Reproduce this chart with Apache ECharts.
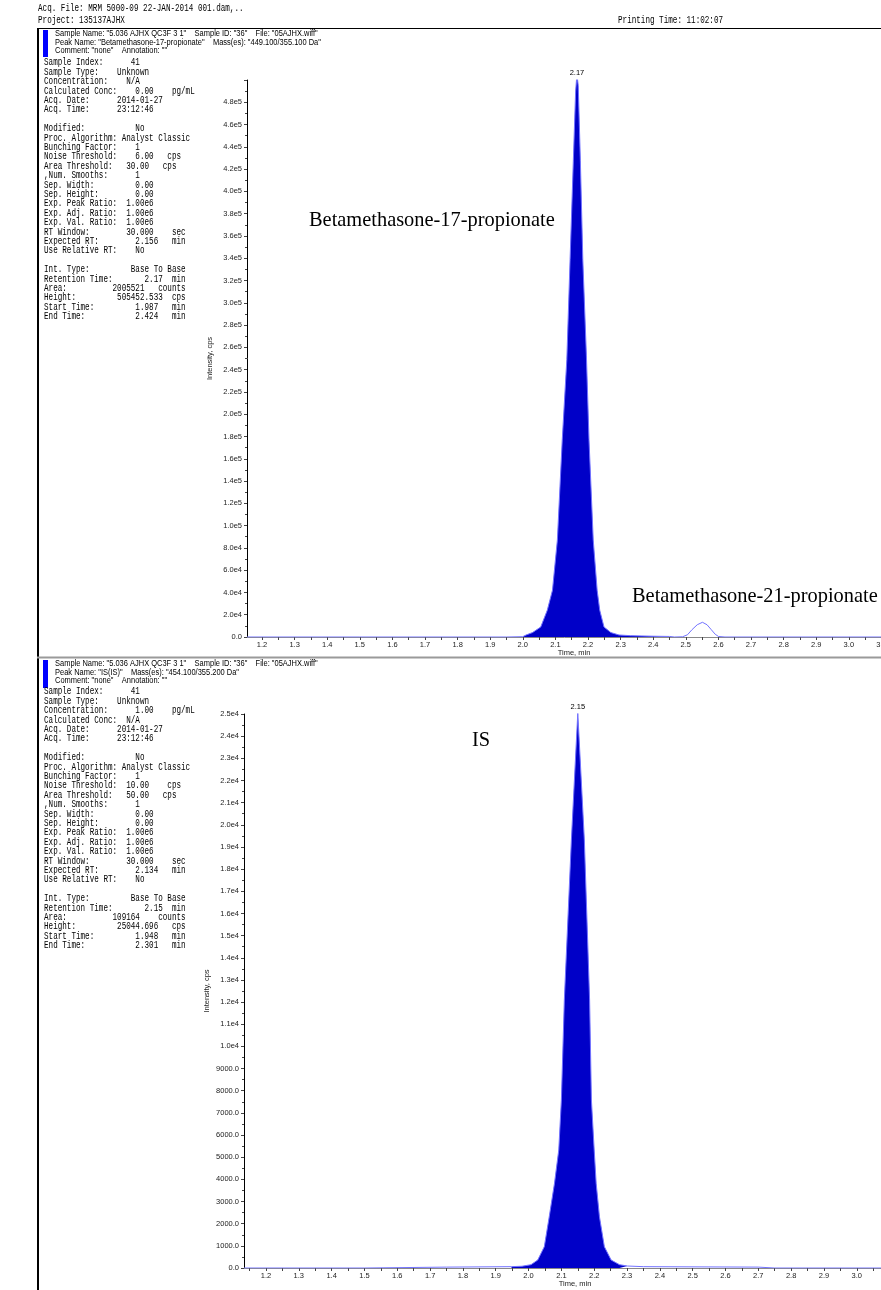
<!DOCTYPE html>
<html>
<head>
<meta charset="utf-8">
<script src="https://cdn.jsdelivr.net/npm/echarts@6/dist/echarts.min.js"></script>
<style>
html,body{margin:0;padding:0;background:#fff;}
#main{width:881px;height:1290px;}
</style>
</head>
<body>
<div id="main"></div>
<script>
// tick labels of the time axis
var xTickLabels = [1.2, 1.3, 1.4, 1.5, 1.6, 1.7, 1.8, 1.9, 2.0, 2.1, 2.2, 2.3, 2.4, 2.5, 2.6, 2.7, 2.8, 2.9, 3.0, 3.1];

// upper trace: Betamethasone-17-propionate (449.1/355.1)
var topTime = [1.154, 1.50, 1.80, 1.95, 2.00, 2.01, 2.03, 2.055, 2.075, 2.091, 2.106, 2.121, 2.135, 2.145, 2.155, 2.162, 2.166,
  2.170, 2.1765, 2.184, 2.195, 2.203, 2.216, 2.228, 2.236, 2.249, 2.27, 2.295, 2.33, 2.40, 2.45, 2.465,
  2.49, 2.505, 2.519, 2.535, 2.551, 2.565, 2.578, 2.59, 2.60, 2.62, 3.16];
var topIntensity = [0, 0, 0, 0, 300, 1800, 4000, 9000, 24000, 42000, 87000, 177000, 249000, 339000, 428000, 490000, 505452,
  495000, 428000, 339000, 253000, 177000, 87000, 42000, 24000, 9000, 4000, 1800, 1200, 700, 500, 0,
  200, 2000, 6600, 11000, 13200, 11000, 6600, 2500, 500, 0, 0];
var topFillRange = [1.987, 2.455];
var topApex = [2.166, 505452];

// lower trace: IS (454.1/355.2)
var botTime = [1.133, 1.50, 1.75, 1.948, 1.98, 2.0075, 2.028, 2.048, 2.063, 2.079, 2.092, 2.100, 2.109, 2.1305, 2.15,
  2.170, 2.186, 2.1915, 2.200, 2.206, 2.216, 2.231, 2.2515, 2.277, 2.301, 2.35, 2.70, 2.75, 3.15];
var botIntensity = [0, 0, 40, 60, 80, 150, 361, 961, 2315, 3822, 5325, 7581, 12094, 19314, 25044.7,
  19314, 12094, 7581, 5325, 3822, 2315, 961, 361, 150, 90, 60, 40, 0, 0];
var botFillRange = [1.948, 2.301];
var botApex = [2.15, 25044.7];

var topHeader = [
  'Sample Name: "5.036 AJHX QC3F 3 1"    Sample ID: "36"    File: "05AJHX.wiff"',
  'Peak Name: "Betamethasone-17-propionate"    Mass(es): "449.100/355.100 Da"',
  'Comment: "none"    Annotation: ""'
];
var botHeader = [
  'Sample Name: "5.036 AJHX QC3F 3 1"    Sample ID: "36"    File: "05AJHX.wiff"',
  'Peak Name: "IS(IS)"    Mass(es): "454.100/355.200 Da"',
  'Comment: "none"    Annotation: ""'
];

// [label, column, value, column, unit]
var topInfo = [
  ['Sample Index:', 19, '41'],
  ['Sample Type:', 16, 'Unknown'],
  ['Concentration:', 18, 'N/A'],
  ['Calculated Conc:', 20, '0.00', 28, 'pg/mL'],
  ['Acq. Date:', 16, '2014-01-27'],
  ['Acq. Time:', 16, '23:12:46'],
  [''],
  ['Modified:', 20, 'No'],
  ['Proc. Algorithm:', 17, 'Analyst Classic'],
  ['Bunching Factor:', 20, '1'],
  ['Noise Threshold:', 20, '6.00', 27, 'cps'],
  ['Area Threshold:', 18, '30.00', 26, 'cps'],
  [',Num. Smooths:', 20, '1'],
  ['Sep. Width:', 20, '0.00'],
  ['Sep. Height:', 20, '0.00'],
  ['Exp. Peak Ratio:', 18, '1.00e6'],
  ['Exp. Adj. Ratio:', 18, '1.00e6'],
  ['Exp. Val. Ratio:', 18, '1.00e6'],
  ['RT Window:', 18, '30.000', 28, 'sec'],
  ['Expected RT:', 20, '2.156', 28, 'min'],
  ['Use Relative RT:', 20, 'No'],
  [''],
  ['Int. Type:', 19, 'Base To Base'],
  ['Retention Time:', 22, '2.17', 28, 'min'],
  ['Area:', 15, '2005521', 25, 'counts'],
  ['Height:', 16, '505452.533', 28, 'cps'],
  ['Start Time:', 20, '1.987', 28, 'min'],
  ['End Time:', 20, '2.424', 28, 'min']
];
var botInfo = [
  ['Sample Index:', 19, '41'],
  ['Sample Type:', 16, 'Unknown'],
  ['Concentration:', 20, '1.00', 28, 'pg/mL'],
  ['Calculated Conc:', 18, 'N/A'],
  ['Acq. Date:', 16, '2014-01-27'],
  ['Acq. Time:', 16, '23:12:46'],
  [''],
  ['Modified:', 20, 'No'],
  ['Proc. Algorithm:', 17, 'Analyst Classic'],
  ['Bunching Factor:', 20, '1'],
  ['Noise Threshold:', 18, '10.00', 27, 'cps'],
  ['Area Threshold:', 18, '50.00', 26, 'cps'],
  [',Num. Smooths:', 20, '1'],
  ['Sep. Width:', 20, '0.00'],
  ['Sep. Height:', 20, '0.00'],
  ['Exp. Peak Ratio:', 18, '1.00e6'],
  ['Exp. Adj. Ratio:', 18, '1.00e6'],
  ['Exp. Val. Ratio:', 18, '1.00e6'],
  ['RT Window:', 18, '30.000', 28, 'sec'],
  ['Expected RT:', 20, '2.134', 28, 'min'],
  ['Use Relative RT:', 20, 'No'],
  [''],
  ['Int. Type:', 19, 'Base To Base'],
  ['Retention Time:', 22, '2.15', 28, 'min'],
  ['Area:', 15, '109164', 25, 'counts'],
  ['Height:', 16, '25044.696', 28, 'cps'],
  ['Start Time:', 20, '1.948', 28, 'min'],
  ['End Time:', 20, '2.301', 28, 'min']
];

function fmtRow(r) {
  var s = r[0];
  for (var i = 1; i < r.length; i += 2) {
    while (s.length < r[i]) s += ' ';
    s += r[i + 1];
  }
  return s;
}

function pairs(t, v) {
  return t.map(function (x, i) { return [x, v[i]]; });
}
function inRange(data, range) {
  return data.filter(function (d) { return d[0] >= range[0] && d[0] <= range[1]; });
}

var topTrace = pairs(topTime, topIntensity);
var botTrace = pairs(botTime, botIntensity);

// half-way ticks between the labelled ones
var xTicks = [1.15];
xTickLabels.forEach(function (v) {
  xTicks.push(v);
  xTicks.push(Math.round((v + 0.05) * 100) / 100);
});

var MONO = '10.5px "Liberation Mono", "DejaVu Sans Mono", monospace';
var MONO_SX = 0.725;
var SANS = '"Liberation Sans", Arial, sans-serif';
var TICKCOL = '#222';

function topLabel(v) {
  if (v === 0) return '0.0';
  if (v >= 1e5) return (v / 1e5).toFixed(1) + 'e5';
  return (v / 1e4).toFixed(1) + 'e4';
}
function botLabel(v) {
  if (v === 0) return '0.0';
  if (v >= 1e4) return (v / 1e4).toFixed(1) + 'e4';
  return v.toFixed(1);
}

function xAxisOpt(grid, min, max) {
  return {
    type: 'value', gridIndex: grid, min: min, max: max,
    name: 'Time, min', nameLocation: 'middle', nameGap: 12, nameMoveOverlap: false,
    nameTextStyle: { fontFamily: SANS, fontSize: 7.5, color: TICKCOL },
    axisLine: { show: true, lineStyle: { color: '#888', width: 1 } },
    axisTick: { show: true, length: 3, lineStyle: { color: '#444' }, customValues: xTicks },
    axisLabel: { customValues: xTickLabels, margin: 4, fontFamily: SANS, fontSize: 7.5, color: TICKCOL,
      hideOverlap: false, formatter: function (v) { return v.toFixed(1); } },
    splitLine: { show: false }
  };
}
function yAxisOpt(grid, max, interval, fmt, showMax) {
  return {
    type: 'value', gridIndex: grid, min: 0, max: max, interval: interval,
    name: 'Intensity, cps', nameLocation: 'middle', nameGap: 33, nameMoveOverlap: false,
    nameTextStyle: { fontFamily: SANS, fontSize: 7.5, color: TICKCOL },
    axisLine: { show: true, lineStyle: { color: '#000', width: 1 } },
    axisTick: { show: true, length: 3, lineStyle: { color: '#444' } },
    minorTick: { show: true, splitNumber: 2, length: 2, lineStyle: { color: '#444' } },
    axisLabel: { margin: 5, fontFamily: SANS, fontSize: 7.5, color: TICKCOL, showMaxLabel: showMax,
      interval: 0, formatter: fmt },
    splitLine: { show: false }
  };
}

var chart = echarts.init(document.getElementById('main'), null, { renderer: 'canvas' });

chart.setOption({
  animation: false,
  backgroundColor: '#fff',
  grid: [
    { left: 247, top: 80, height: 557, width: 654, outerBoundsMode: 'none', containLabel: false },
    { left: 244, top: 714, height: 554, width: 662, outerBoundsMode: 'none', containLabel: false }
  ],
  xAxis: [xAxisOpt(0, 1.154, 3.16), xAxisOpt(1, 1.133, 3.15)],
  yAxis: [yAxisOpt(0, 500000, 20000, topLabel, false), yAxisOpt(1, 25000, 1000, botLabel, true)],
  series: [
    { type: 'line', xAxisIndex: 0, yAxisIndex: 0, data: inRange(topTrace, topFillRange), showSymbol: false,
      lineStyle: { width: 0 }, areaStyle: { color: '#0000c8', opacity: 1 }, silent: true },
    { type: 'line', xAxisIndex: 0, yAxisIndex: 0, data: topTrace, showSymbol: false,
      lineStyle: { color: '#7272ff', width: 1 }, silent: true },
    { type: 'line', xAxisIndex: 1, yAxisIndex: 1, data: inRange(botTrace, botFillRange), showSymbol: false,
      lineStyle: { width: 0 }, areaStyle: { color: '#0000c8', opacity: 1 }, silent: true },
    { type: 'line', xAxisIndex: 1, yAxisIndex: 1, data: botTrace, showSymbol: false,
      lineStyle: { color: '#7272ff', width: 1 }, silent: true }
  ]
});

// apex labels placed through the axes
var pTop = chart.convertToPixel({ gridIndex: 0 }, [topApex[0], 500000]);
var pBot = chart.convertToPixel({ gridIndex: 1 }, [botApex[0], 25000]);

var SERIF = '20.4px "Liberation Serif", "Times New Roman", serif';

function txt(x, y, text, font) {
  return { type: 'text', x: x, y: y, silent: true,
    style: { text: text, font: font, fill: '#000', textVerticalAlign: 'middle' } };
}
function mono(x, y, text) {
  return { type: 'text', x: x, y: y, scaleX: MONO_SX, silent: true,
    style: { text: text, font: MONO, fill: '#000', textVerticalAlign: 'top', lineHeight: 9.4 } };
}
function header(y, lines) {
  return { type: 'text', x: 55, y: y, scaleX: 0.88, silent: true,
    style: { text: lines.join('\n'), font: '8.5px ' + SANS, fill: '#000', textVerticalAlign: 'top', lineHeight: 8.2 } };
}

chart.setOption({
  graphic: [
    // page frame
    { type: 'rect', shape: { x: 37, y: 28, width: 2, height: 1262 }, style: { fill: '#000' }, silent: true },
    { type: 'line', shape: { x1: 37, y1: 28.5, x2: 881, y2: 28.5 }, style: { stroke: '#000', lineWidth: 1 }, silent: true },
    { type: 'line', shape: { x1: 37, y1: 657.5, x2: 881, y2: 657.5 }, style: { stroke: '#9a9a9a', lineWidth: 2 }, silent: true },
    { type: 'rect', shape: { x: 43, y: 30, width: 5, height: 27 }, style: { fill: '#0000ff' }, silent: true },
    { type: 'rect', shape: { x: 43, y: 660, width: 5, height: 28 }, style: { fill: '#0000ff' }, silent: true },
    // page header
    mono(38, 3.5, 'Acq. File: MRM 5000-09 22-JAN-2014 001.dam,..'),
    mono(38, 15.5, 'Project: 135137AJHX'),
    mono(618, 15.5, 'Printing Time: 11:02:07'),
    // panel headers and info blocks
    header(30, topHeader),
    header(660, botHeader),
    mono(44, 58, topInfo.map(fmtRow).join('\n')),
    mono(44, 687, botInfo.map(fmtRow).join('\n')),
    // peak names
    txt(309, 221, 'Betamethasone-17-propionate', SERIF),
    txt(632, 597, 'Betamethasone-21-propionate', SERIF),
    txt(472, 741, 'IS', SERIF),
    // apex retention times
    { type: 'text', x: pTop[0], y: pTop[1] - 7, silent: true,
      style: { text: '2.17', font: '7.5px ' + SANS, fill: '#000', textAlign: 'center', textVerticalAlign: 'middle' } },
    { type: 'text', x: pBot[0], y: pBot[1] - 7, silent: true,
      style: { text: '2.15', font: '7.5px ' + SANS, fill: '#000', textAlign: 'center', textVerticalAlign: 'middle' } }
  ]
});
</script>
</body>
</html>
